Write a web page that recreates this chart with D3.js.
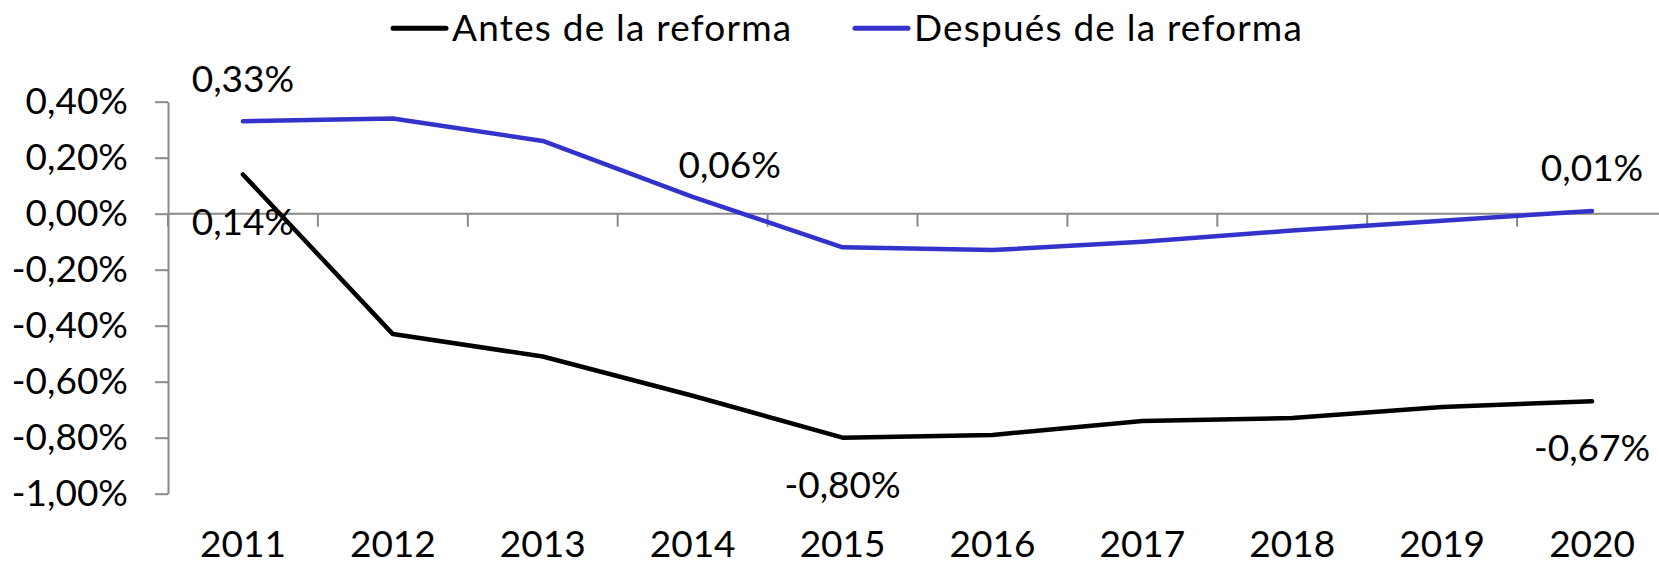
<!DOCTYPE html>
<html>
<head>
<meta charset="utf-8">
<script src="https://cdn.jsdelivr.net/npm/d3@7"></script>
<style>
  html, body { margin: 0; padding: 0; background: #fff; }
  svg { display: block; font-family: Lato, "Open Sans", sans-serif; }
</style>
</head>
<body>
<svg id="chart" width="1659" height="565"></svg>
<script>
// chart data (values in %)
const years = ['2011', '2012', '2013', '2014', '2015', '2016', '2017', '2018', '2019', '2020'];
const antes = [0.14, -0.43, -0.51, -0.65, -0.80, -0.79, -0.74, -0.73, -0.69, -0.67];
const despues = [0.33, 0.34, 0.26, 0.06, -0.12, -0.13, -0.10, -0.06, -0.025, 0.01];
const yTicks = [0.4, 0.2, 0, -0.2, -0.4, -0.6, -0.8, -1.0];
const seriesNames = ['Antes de la reforma', 'Después de la reforma'];
// which points carry a data label
const antesLabelIdx = [0, 4, 9];
const despuesLabelIdx = [0, 3, 9];

const svg = d3.select('#chart');
const fontSize = 37;

const locale = d3.formatLocale({ decimal: ',', thousands: '.', grouping: [3], currency: ['', '€'], minus: '-' });
const pct = v => locale.format('.2f')(v) + '%';

const x = d3.scaleBand().domain(years).range([168, 1667]);
const y = d3.scaleLinear().domain([-1.0, 0.4]).range([493.7, 101.7]);

const axisColor = '#898989';

// y axis
const yAxis = svg.append('g')
  .attr('transform', 'translate(168,0)')
  .call(d3.axisLeft(y).tickValues(yTicks).tickSize(13).tickSizeOuter(0).tickPadding(27).tickFormat(pct));
yAxis.select('.domain').attr('stroke', axisColor).attr('stroke-width', 2);
yAxis.selectAll('.tick line').attr('stroke', axisColor).attr('stroke-width', 2);
yAxis.selectAll('.tick text')
  .attr('fill', '#000')
  .style('font-size', fontSize + 'px')
  .style('font-family', 'Lato, "Open Sans", sans-serif');

// x axis along zero, ticks between categories
const y0 = y(0);
const xAxis = svg.append('g').attr('transform', `translate(0,${y0})`);
xAxis.append('line')
  .attr('x1', x.range()[0]).attr('x2', x.range()[1])
  .attr('stroke', axisColor).attr('stroke-width', 2);
const bounds = years.map(d => x(d)).concat([x.range()[1]]);
xAxis.selectAll('line.tk')
  .data(bounds)
  .enter()
  .append('line')
  .attr('class', 'tk')
  .attr('x1', d => d).attr('x2', d => d)
  .attr('y1', 0).attr('y2', 13)
  .attr('stroke', axisColor).attr('stroke-width', 2);

// year labels at the bottom
svg.append('g').selectAll('text')
  .data(years)
  .enter()
  .append('text')
  .attr('x', d => x(d) + x.bandwidth() / 2)
  .attr('y', 557)
  .attr('text-anchor', 'middle')
  .style('font-size', fontSize + 'px')
  .text(d => d);

const line = d3.line()
  .x((d, i) => x(years[i]) + x.bandwidth() / 2)
  .y(d => y(d));

const colors = ['#000000', '#3333cc'];

svg.append('path')
  .datum(antes)
  .attr('d', line)
  .attr('fill', 'none')
  .attr('stroke', colors[0])
  .attr('stroke-width', 4.5)
  .attr('stroke-linejoin', 'round')
  .attr('stroke-linecap', 'round');

svg.append('path')
  .datum(despues)
  .attr('d', line)
  .attr('fill', 'none')
  .attr('stroke', colors[1])
  .attr('stroke-width', 4.5)
  .attr('stroke-linejoin', 'round')
  .attr('stroke-linecap', 'round');

// data labels: "below" for Antes, "above" for Después
function addLabels(values, idx, below, nudge) {
  svg.append('g').selectAll('text')
    .data(idx)
    .enter()
    .append('text')
    .attr('x', i => x(years[i]) + x.bandwidth() / 2 + (nudge[i] ? nudge[i][0] : 0))
    .attr('y', i => y(values[i]) + (below ? 60 : -29.5) + (nudge[i] ? nudge[i][1] : 0))
    .attr('text-anchor', 'middle')
    .style('font-size', fontSize + 'px')
    .text(i => pct(values[i]));
}
addLabels(antes, antesLabelIdx, true, {});
addLabels(despues, despuesLabelIdx, false, { 3: [37, 11] });

// legend
const legend = svg.append('g');
const legendPos = [393, 855];
seriesNames.forEach((name, i) => {
  legend.append('line')
    .attr('x1', legendPos[i]).attr('x2', legendPos[i] + 53)
    .attr('y1', 28.3).attr('y2', 28.3)
    .attr('stroke', colors[i])
    .attr('stroke-width', 5)
    .attr('stroke-linecap', 'round');
  legend.append('text')
    .attr('x', legendPos[i] + 59)
    .attr('y', 40.7)
    .style('font-size', fontSize + 'px')
    .style('letter-spacing', '1.2px')
    .text(name);
});
</script>
</body>
</html>
